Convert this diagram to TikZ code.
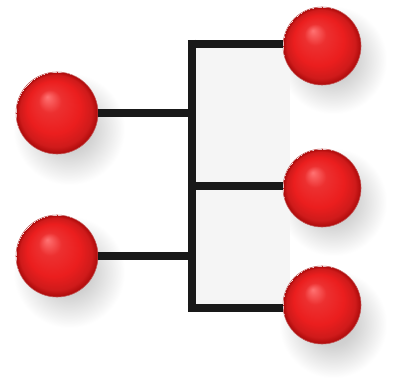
\documentclass[tikz,border=0pt]{standalone}
\definecolor{ballred}{RGB}{235,30,30}
\definecolor{balldark}{RGB}{170,10,10}
\definecolor{linecol}{RGB}{25,25,25}
\pgfdeclareradialshading{glossyred}{\pgfpoint{-6bp}{10bp}}{%
  color(0bp)=(red!55!white);
  color(7bp)=(ballred!92!white);
  color(16bp)=(ballred);
  color(22bp)=(ballred!88!black);
  color(25bp)=(balldark)}
\pgfdeclareradialshading{softshadow}{\pgfpoint{0bp}{0bp}}{%
  color(0bp)=(black!22);
  color(10bp)=(black!18);
  color(25bp)=(white);
  color(50bp)=(white)}
\tikzset{
  ball/.style={circle, minimum size=82pt, inner sep=0pt, shading=glossyred,
    draw=balldark!70, line width=0.6pt},
  smallball/.style={ball, minimum size=78pt},
  shadowblob/.style={shading=softshadow},
  link/.style={draw=linecol, line width=8.5pt},
  panel/.style={fill=black!4, draw=none}
}
\begin{document}
\begin{tikzpicture}[x=1pt,y=-1pt]
\useasboundingbox (0,0) rectangle (404,385);
\fill[white] (0,0) rectangle (404,385);
% soft shadows
\shade[shadowblob] (69,129) circle (56);
\shade[shadowblob] (69,272) circle (56);
\shade[shadowblob] (333,60) circle (54);
\shade[shadowblob] (333,202) circle (54);
\shade[shadowblob] (333,324) circle (54);
% faint background panels
\fill[panel] (196,48) rectangle (290,182);
\fill[panel] (196,190) rectangle (290,304);
% junction coordinates
\coordinate (jtop) at (192,44);
\coordinate (jl1) at (192,113);
\coordinate (jmid) at (192,186);
\coordinate (jl2) at (192,256);
\coordinate (jbot) at (192,308);
% balls
\node[ball] (L1) at (57,113) {};
\node[ball] (L2) at (57,256) {};
\node[smallball] (R1) at (322,46) {};
\node[smallball] (R2) at (322,188) {};
\node[smallball] (R3) at (322,305) {};
% connectors
\draw[link] ([yshift=4.25pt]jtop) -- ([yshift=-4.25pt]jbot);
\draw[link] (L1.east) -- (jl1);
\draw[link] (L2.east) -- (jl2);
\draw[link] ([xshift=-4.25pt]jtop) -- (jtop -| R1.west);
\draw[link] (jmid) -- (jmid -| R2.west);
\draw[link] ([xshift=-4.25pt]jbot) -- (jbot -| R3.west);
\end{tikzpicture}
\end{document}
